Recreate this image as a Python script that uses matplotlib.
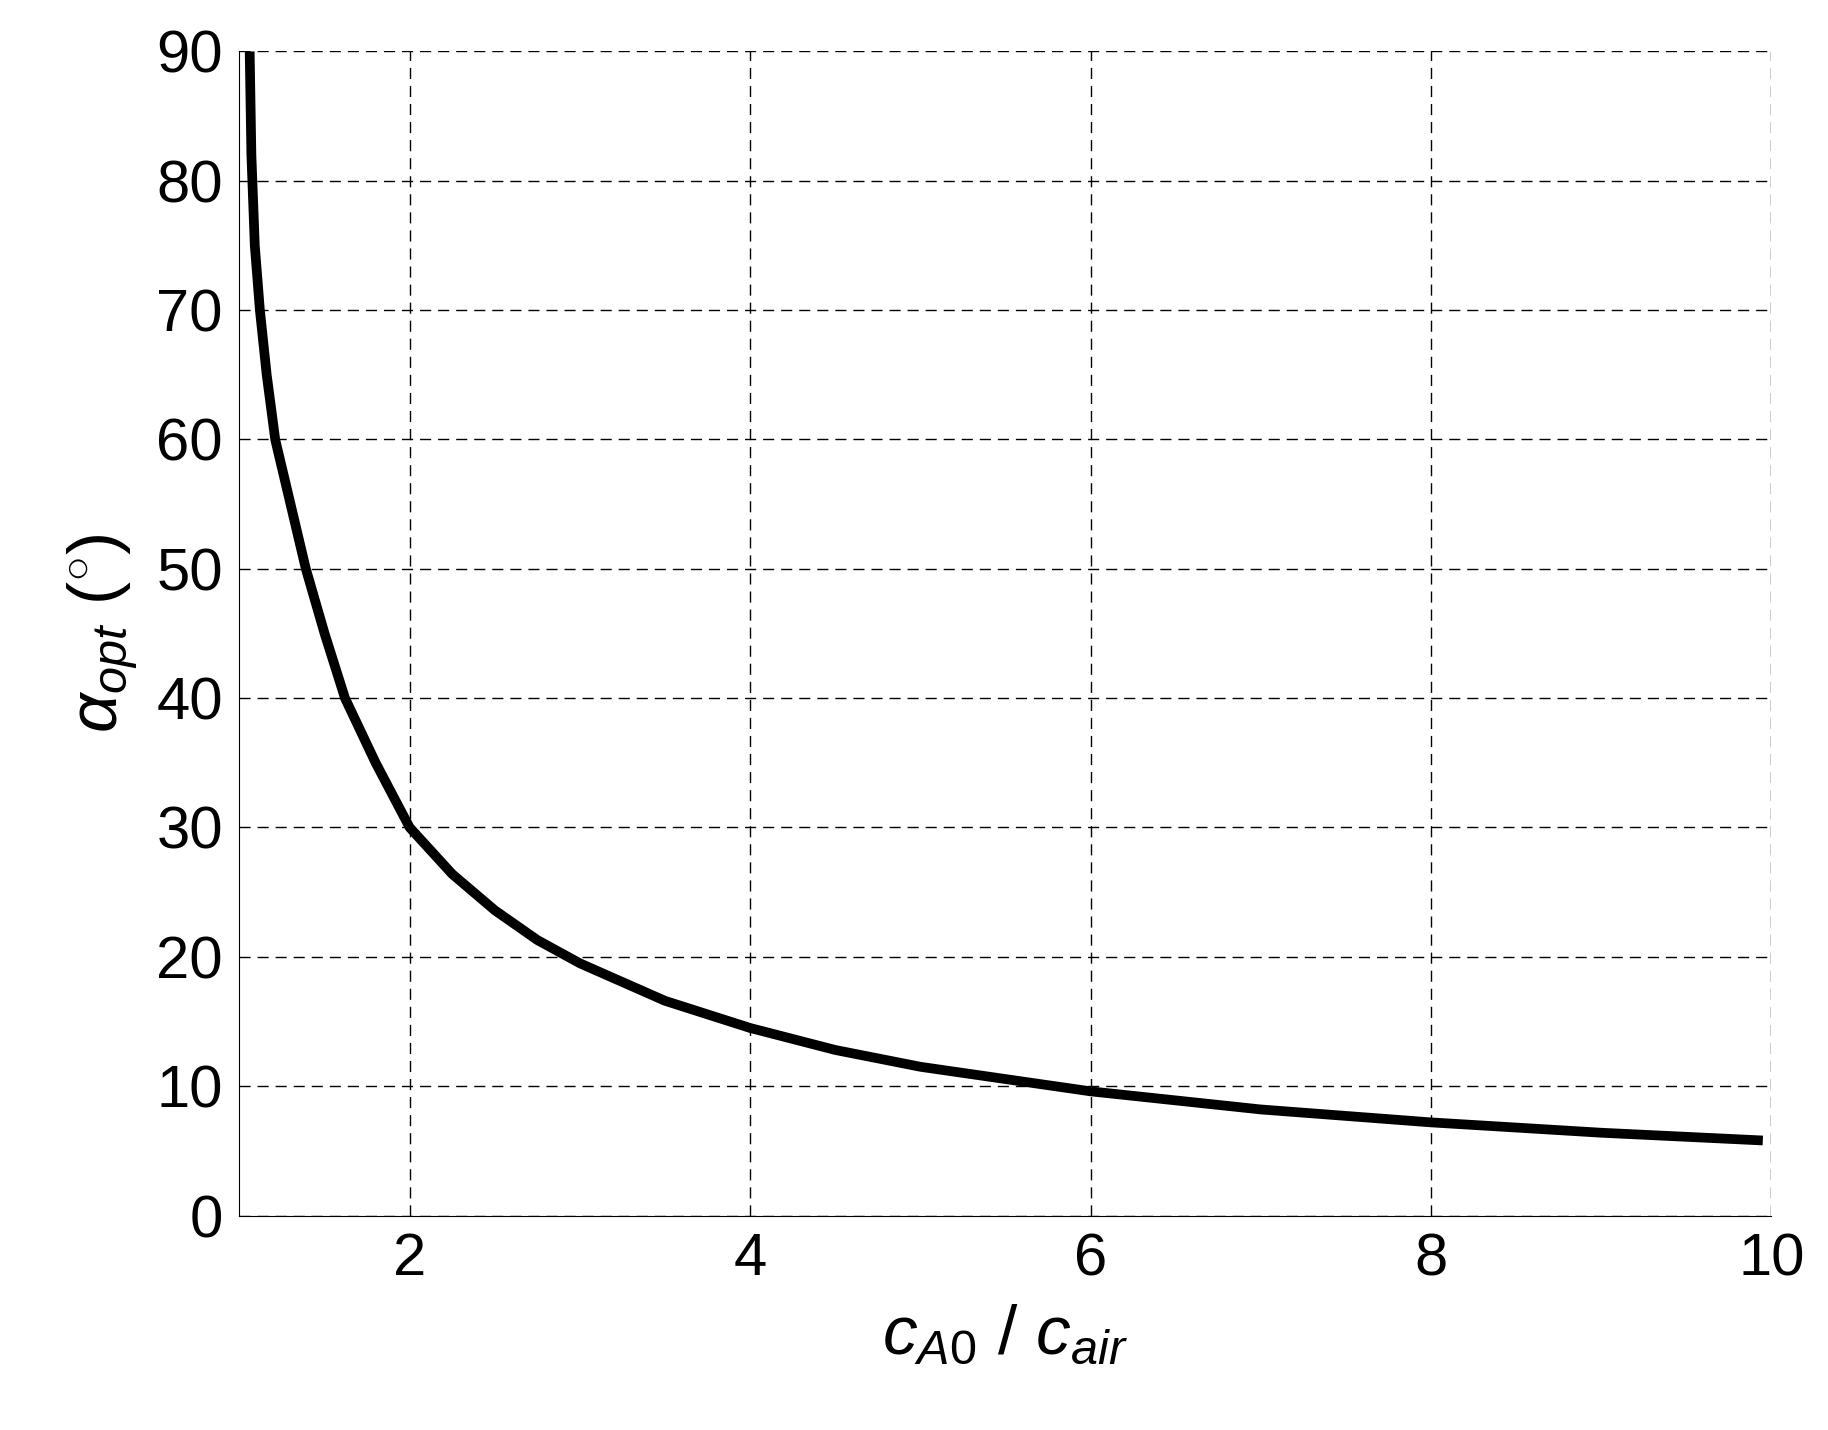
import matplotlib
matplotlib.use("Agg")
import matplotlib.pyplot as plt

ratio = [1.06, 1.07, 1.09, 1.12, 1.16, 1.21, 1.3, 1.39, 1.5, 1.62, 1.8, 2.0, 2.25, 2.5, 2.75, 3.0, 3.5, 4.0, 4.5, 5.0, 6.0, 7.0, 8.0, 9.0, 9.95]
alpha_opt = [90.0, 82.0, 75.0, 70.0, 65.0, 60.0, 55.0, 50.0, 45.0, 40.0, 35.0, 30.0, 26.4, 23.6, 21.3, 19.5, 16.6, 14.5, 12.8, 11.5, 9.6, 8.2, 7.2, 6.4, 5.8]

plt.rcParams['font.family'] = ['Liberation Sans', 'DejaVu Sans']
plt.rcParams['mathtext.fontset'] = 'custom'
plt.rcParams['mathtext.it'] = 'Liberation Sans:italic'
plt.rcParams['mathtext.rm'] = 'Liberation Sans'
fig = plt.figure(figsize=(18.28, 14.30), dpi=100)
ax = fig.add_axes([0.131, 0.150, 0.838, 0.814])
ax.plot(ratio, alpha_opt, color='black', lw=7, solid_capstyle='butt')
ax.set_xlim(1, 10)
ax.set_ylim(0, 90)
ax.set_xticks([2, 4, 6, 8, 10])
ax.set_yticks(range(0, 91, 10))
ax.grid(True, color='black', linestyle=(0, (8, 5)), lw=1)
for s in ['top', 'right']:
    ax.spines[s].set_visible(False)
ax.tick_params(length=0, labelsize=43, pad=12)
ax.set_xlabel(r'$c_{A0}$ / $c_{air}$', fontsize=50, labelpad=12)
ax.set_ylabel(r'$\alpha_{opt}$ ($^{\circ}$)', fontsize=50, labelpad=12)
fig.savefig('out.png', dpi=100)
